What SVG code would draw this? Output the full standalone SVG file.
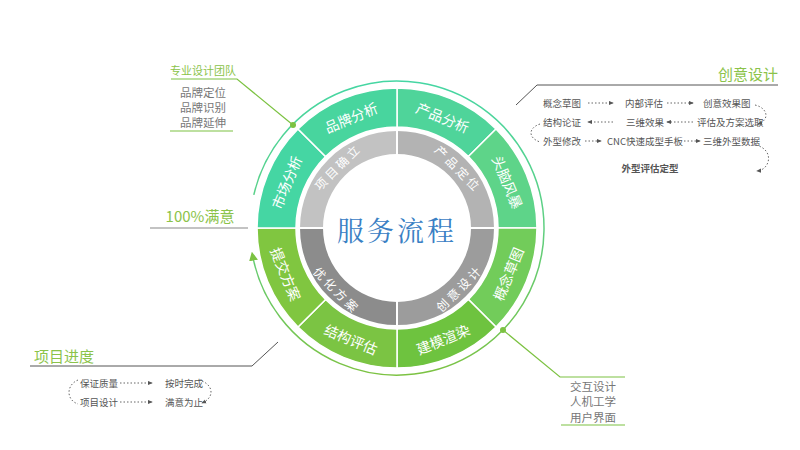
<svg xmlns="http://www.w3.org/2000/svg" width="800" height="450" viewBox="0 0 800 450">
<defs>
<style>
.seg{stroke:#fff;stroke-width:1.5}
.st{fill:#fff;font-family:"Noto Sans CJK SC","Noto Sans",sans-serif;font-size:14px;text-anchor:middle;dominant-baseline:central}
.gt{fill:#fff;font-family:"Noto Sans CJK SC","Noto Sans",sans-serif;font-size:12px;text-anchor:middle;dominant-baseline:central;letter-spacing:3px}
.sm{fill:#555;font-family:"Noto Sans CJK SC","Noto Sans",sans-serif;font-size:9.5px;dominant-baseline:central}
.gr{fill:#777;font-family:"Noto Sans CJK SC","Noto Sans",sans-serif;font-size:11.5px;text-anchor:middle;dominant-baseline:central}
.hd{fill:#8bc34a;font-family:"Noto Sans CJK SC","Noto Sans",sans-serif;font-size:15px;dominant-baseline:central}
.hs{fill:#8bc34a;font-family:"Noto Sans CJK SC","Noto Sans",sans-serif;font-size:11px;dominant-baseline:central;text-anchor:middle}
.dl{fill:none;stroke:#666;stroke-width:1;stroke-dasharray:1.5 2}
.ln{fill:none;stroke:#555;stroke-width:1}
.gl{fill:none;stroke:#7cc242;stroke-width:1.2}
</style>
<marker id="ah" viewBox="0 0 6 6" refX="5" refY="3" markerWidth="5" markerHeight="5" orient="auto"><path d="M0,0.5 L6,3 L0,5.5 Z" fill="#555"/></marker>
<marker id="big" viewBox="0 0 10 10" refX="5" refY="5" markerWidth="9" markerHeight="9" orient="auto" markerUnits="userSpaceOnUse"><path d="M0,0 L10,5 L0,10 Z" fill="#7cc242"/></marker>
<linearGradient id="arcg" x1="0" y1="0" x2="0" y2="1"><stop offset="0" stop-color="#45d6a3"/><stop offset="0.5" stop-color="#5fcf80"/><stop offset="1" stop-color="#7cc242"/></linearGradient>
<path id="os" d="M0,-140 A140,140 0 0 1 98.99,-98.99 L71.42,-71.42 A101,101 0 0 0 0,-101 Z"/>
<path id="is" d="M0,-97 A97,97 0 0 1 97,0 L74,0 A74,74 0 0 0 0,-74 Z"/>
</defs>
<rect width="800" height="450" fill="#fff"/>

<g id="connectors">
<path d="M253.8,194.9 A147,147 0 1 1 252.7,256.1" fill="none" stroke="url(#arcg)" stroke-width="1.5" marker-end="url(#big)"/>
<path class="gl" d="M171,79 L237,79 L293,125"/>
<circle cx="293" cy="125" r="3" fill="#7cc242"/>
<line class="gl" x1="170" y1="131" x2="233" y2="131"/>
<line x1="150" y1="228" x2="248" y2="228" stroke="#888" stroke-width="1.2"/>
<path class="ln" d="M30,366 L252,366 L278,342"/>
<path class="ln" d="M516,105 L537,85 L778,85"/>
<path class="gl" d="M503,330 L560,377 L625,377"/>
<circle cx="503" cy="330" r="3" fill="#7cc242"/>
<line class="gl" x1="561" y1="425" x2="625" y2="425"/>
<line class="dl" x1="588" y1="103" x2="613" y2="103" marker-end="url(#ah)"/>
<line class="dl" x1="667" y1="103" x2="693" y2="103" marker-end="url(#ah)"/>
<line class="dl" x1="613" y1="122" x2="588" y2="122" marker-end="url(#ah)"/>
<line class="dl" x1="693" y1="122" x2="667" y2="122" marker-end="url(#ah)"/>
<line class="dl" x1="585" y1="141" x2="601" y2="141" marker-end="url(#ah)"/>
<line class="dl" x1="684" y1="141" x2="700" y2="141" marker-end="url(#ah)"/>
<path class="dl" d="M755,105 C768,108 770,120 758,124" marker-end="url(#ah)"/>
<path class="dl" d="M540,124 C528,128 528,138 540,142"/>
<path class="dl" d="M756,145 C775,150 770,170 757,171" marker-end="url(#ah)"/>
<line class="dl" x1="120" y1="383" x2="152" y2="383" marker-end="url(#ah)"/>
<line class="dl" x1="120" y1="402" x2="152" y2="402" marker-end="url(#ah)"/>
<path class="dl" d="M78,380 C66,385 66,400 78,404"/>
<path class="dl" d="M202,381 C214,386 214,398 202,403" marker-end="url(#ah)"/>
</g>

<g id="ring-outer" transform="translate(397,228)">
<use href="#os" class="seg" fill="#4fd49a" transform="rotate(0)"/>
<use href="#os" class="seg" fill="#5ed489" transform="rotate(45)"/>
<use href="#os" class="seg" fill="#72cc5a" transform="rotate(90)"/>
<use href="#os" class="seg" fill="#6ec33f" transform="rotate(135)"/>
<use href="#os" class="seg" fill="#7bc443" transform="rotate(180)"/>
<use href="#os" class="seg" fill="#80c640" transform="rotate(225)"/>
<use href="#os" class="seg" fill="#45d6a3" transform="rotate(270)"/>
<use href="#os" class="seg" fill="#48d59e" transform="rotate(315)"/>
</g>
<g id="n-cpfx"><text class="st" transform="translate(397,228) rotate(22.5) translate(0,-120)">产品分析</text></g>
<g id="n-tnfb"><text class="st" transform="translate(397,228) rotate(67.5) translate(0,-120)">头脑风暴</text></g>
<g id="n-gnct"><text class="st" transform="translate(397,228) rotate(112.5) translate(0,-120) rotate(180)">概念草图</text></g>
<g id="n-jmxr"><text class="st" transform="translate(397,228) rotate(157.5) translate(0,-120) rotate(180)">建模渲染</text></g>
<g id="n-jgpg"><text class="st" transform="translate(397,228) rotate(202.5) translate(0,-120) rotate(180)">结构评估</text></g>
<g id="n-tjfa"><text class="st" transform="translate(397,228) rotate(247.5) translate(0,-120) rotate(180)">提交方案</text></g>
<g id="n-scfx"><text class="st" transform="translate(397,228) rotate(292.5) translate(0,-120)">市场分析</text></g>
<g id="n-ppfx"><text class="st" transform="translate(397,228) rotate(337.5) translate(0,-120)">品牌分析</text></g>

<g id="ring-inner" transform="translate(397,228)">
<use href="#is" fill="#b3b3b3" transform="rotate(0)"/>
<use href="#is" fill="#9c9c9c" transform="rotate(90)"/>
<use href="#is" fill="#8c8c8c" transform="rotate(180)"/>
<use href="#is" fill="#c2c2c2" transform="rotate(270)"/>
<line x1="0" y1="-98" x2="0" y2="98" stroke="#fff" stroke-width="2"/>
<line x1="-98" y1="0" x2="98" y2="0" stroke="#fff" stroke-width="2"/>
</g>
<g id="n-cpdw"><text class="gt" transform="translate(397,228) rotate(45) translate(1.5,-86)">产品定位</text></g>
<g id="n-cysj"><text class="gt" transform="translate(397,228) rotate(135) translate(-1.5,-86) rotate(180)">创意设计</text></g>
<g id="n-yhfa"><text class="gt" transform="translate(397,228) rotate(225) translate(-1.5,-86) rotate(180)">优化方案</text></g>
<g id="n-xmql"><text class="gt" transform="translate(397,228) rotate(315) translate(1.5,-86)">项目确立</text></g>

<g id="center"><text x="397" y="229" fill="#3a80c4" font-family="'Noto Serif CJK SC','Noto Sans CJK SC',serif" font-size="27" text-anchor="middle" dominant-baseline="central" letter-spacing="3">服务流程</text></g>

<g id="team">
<text x="203" y="70" class="hs">专业设计团队</text>
<text x="203" y="92" class="gr">品牌定位</text>
<text x="203" y="107" class="gr">品牌识别</text>
<text x="203" y="122" class="gr">品牌延伸</text>
</g>
<g id="satisfy"><text x="200" y="215" class="hd" text-anchor="middle">100%满意</text></g>
<g id="progress">
<text x="34" y="355" class="hd">项目进度</text>
<text x="80" y="383" class="sm">保证质量</text>
<text x="165" y="383" class="sm">按时完成</text>
<text x="80" y="402" class="sm">项目设计</text>
<text x="165" y="402" class="sm">满意为止</text>
</g>
<g id="creative">
<text x="778" y="73" class="hd" text-anchor="end">创意设计</text>
<text x="543" y="103" class="sm">概念草图</text>
<text x="625" y="103" class="sm">内部评估</text>
<text x="703" y="103" class="sm">创意效果图</text>
<text x="543" y="122" class="sm">结构论证</text>
<text x="626" y="122" class="sm">三维效果</text>
<text x="697" y="122" class="sm">评估及方案选取</text>
<text x="543" y="141" class="sm">外型修改</text>
<text x="607" y="141" class="sm">CNC快速成型手板</text>
<text x="703" y="141" class="sm">三维外型数据</text>
<text x="650" y="168" class="sm" text-anchor="middle" font-weight="bold" fill="#333">外型评估定型</text>
</g>
<g id="ux">
<text x="593" y="386" class="gr">交互设计</text>
<text x="593" y="401" class="gr">人机工学</text>
<text x="593" y="417" class="gr">用户界面</text>
</g>
</svg>
